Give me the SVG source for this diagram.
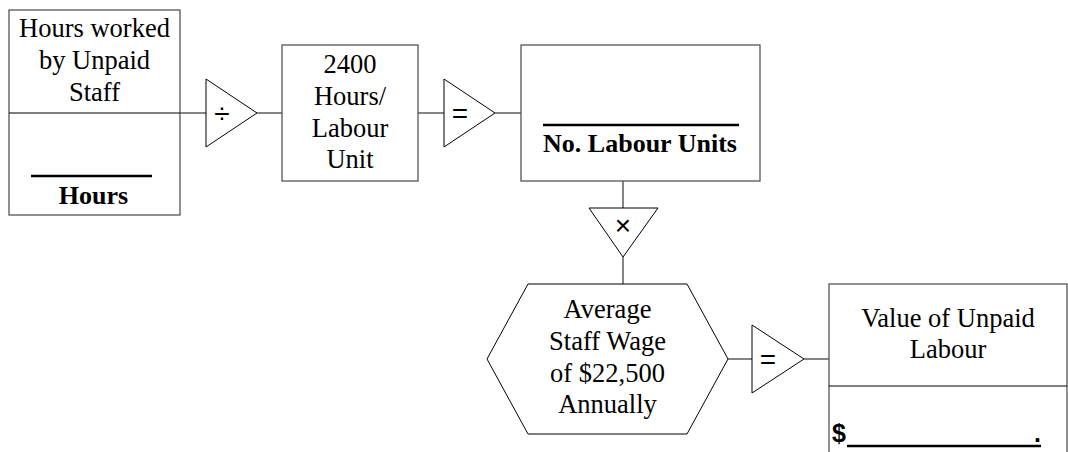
<svg xmlns="http://www.w3.org/2000/svg" width="1068" height="452" viewBox="0 0 1068 452">
<style>
.box{fill:#fff;stroke:#555;stroke-width:1.3}
.div{stroke:#000;stroke-width:1.2}
.con{stroke:#333;stroke-width:1.2;fill:none}
.tri{fill:#fff;stroke:#000;stroke-width:1}
.t{font-family:"Liberation Serif","Times New Roman",serif;font-size:26.5px;fill:#000;text-anchor:middle}
.b{font-family:"Liberation Serif","Times New Roman",serif;font-size:26px;font-weight:bold;fill:#000;text-anchor:middle}
.op{font-family:"Liberation Sans",Arial,sans-serif;font-size:28px;fill:#000;text-anchor:middle;dominant-baseline:central}
.ul{stroke:#000;stroke-width:2.5}
.s{font-family:"Liberation Sans",Arial,sans-serif;font-size:25px;font-weight:bold;fill:#000}
</style>
<rect width="1068" height="452" fill="#fff"/>
<g id="connectors">
<line class="con" x1="180" y1="113" x2="206" y2="113"/>
<line class="con" x1="257" y1="113" x2="282" y2="113"/>
<line class="con" x1="418" y1="113" x2="444" y2="113"/>
<line class="con" x1="495" y1="113" x2="521" y2="113"/>
<line class="con" x1="623" y1="181" x2="623" y2="208"/>
<line class="con" x1="623" y1="257" x2="623" y2="284"/>
<line class="con" x1="728" y1="359" x2="752" y2="359"/>
<line class="con" x1="804" y1="359" x2="829" y2="359"/>
</g>
<g id="hours-worked">
<rect class="box" x="9" y="10" width="171" height="205"/>
<line class="div" x1="9" y1="113" x2="180" y2="113"/>
<text class="t" x="94.5" y="37">Hours worked</text>
<text class="t" x="94.5" y="69">by Unpaid</text>
<text class="t" x="94.5" y="101">Staff</text>
<line class="ul" x1="31" y1="176" x2="152" y2="176"/>
<text class="b" x="93.5" y="204">Hours</text>
</g>
<g id="op-divide">
<polygon class="tri" points="206,79 257,113 206,147"/>
<text class="op" x="222" y="113">÷</text>
</g>
<g id="hours-per-unit">
<rect class="box" x="282" y="45" width="136" height="136"/>
<text class="t" x="350" y="73">2400</text>
<text class="t" x="350" y="105">Hours/</text>
<text class="t" x="350" y="137">Labour</text>
<text class="t" x="350" y="168">Unit</text>
</g>
<g id="op-equals-1">
<polygon class="tri" points="444,79 495,113 444,147"/>
<text class="op" x="460" y="113">=</text>
</g>
<g id="labour-units">
<rect class="box" x="521" y="45" width="239" height="136"/>
<line class="ul" x1="543" y1="125" x2="739" y2="125"/>
<text class="b" x="640" y="152">No. Labour Units</text>
</g>
<g id="op-multiply">
<polygon class="tri" points="589,208 658,208 623,257"/>
<text class="op" x="623" y="225">×</text>
</g>
<g id="wage">
<polygon class="tri" points="528,284 687,284 728,359 687,434 528,434 487,359"/>
<text class="t" x="607.5" y="318">Average</text>
<text class="t" x="607.5" y="350">Staff Wage</text>
<text class="t" x="607.5" y="382">of $22,500</text>
<text class="t" x="607.5" y="413">Annually</text>
</g>
<g id="op-equals-2">
<polygon class="tri" points="752,325 804,359 752,393"/>
<text class="op" x="768" y="359">=</text>
</g>
<g id="value">
<rect class="box" x="829" y="284" width="238" height="180"/>
<line class="div" x1="829" y1="386" x2="1067" y2="386"/>
<text class="t" x="948" y="327">Value of Unpaid</text>
<text class="t" x="948" y="358">Labour</text>
<text class="s" x="832" y="442">$</text>
<line class="ul" x1="847" y1="446" x2="1041" y2="446"/>
<text class="s" x="1034" y="442">.</text>
</g>
</svg>
